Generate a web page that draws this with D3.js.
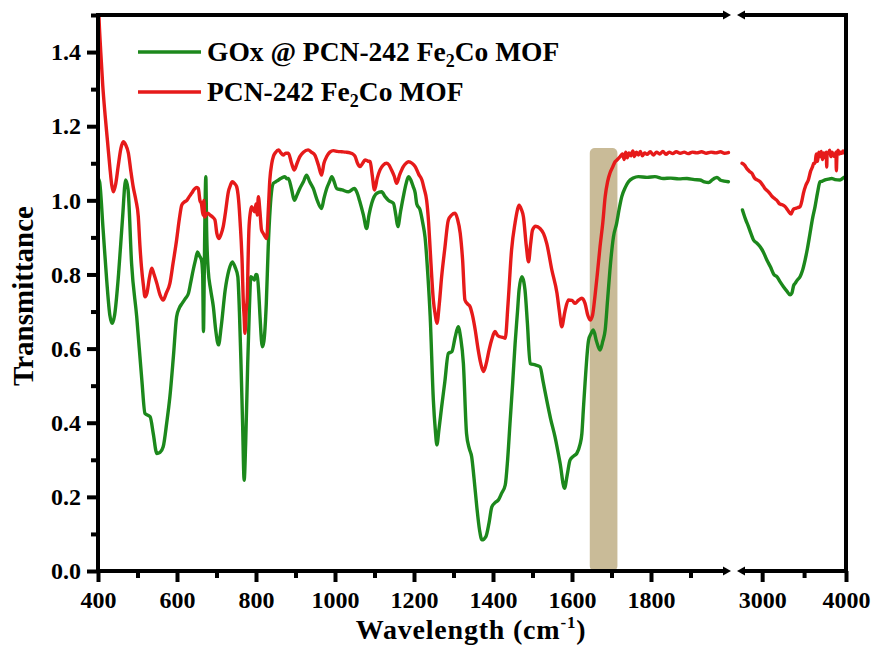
<!DOCTYPE html>
<html>
<head>
<meta charset="utf-8">
<script src="https://cdn.jsdelivr.net/npm/d3@7/dist/d3.min.js"></script>
<style>
  html, body { margin: 0; padding: 0; background: #fff; }
  svg { display: block; }
  text { font-family: "Liberation Serif", "Times New Roman", serif; font-weight: bold; fill: #000; }
</style>
</head>
<body>
<div id="chart"></div>
<script>
// FTIR spectra on a broken wavenumber axis: [400, 2000] and [2700, 4000] cm^-1
const lowDomain = [400, 2000];
const highDomain = [2700, 4000];
const yDomain = [0, 1.5];

const lowMajorTicks = [400, 600, 800, 1000, 1200, 1400, 1600, 1800];
const lowMinorTicks = [500, 700, 900, 1100, 1300, 1500, 1700, 1900];
const highMajorTicks = [3000, 4000];
const highMinorTicks = [3500];
const yMajorTicks = [0, 0.2, 0.4, 0.6, 0.8, 1.0, 1.2, 1.4];
const yMinorTicks = [0.1, 0.3, 0.5, 0.7, 0.9, 1.1, 1.3, 1.5];

const seriesNames = ["GOx @ PCN-242 Fe|2|Co MOF", "PCN-242 Fe|2|Co MOF"];
const seriesColors = ["#1c881c", "#e61a1a"];

// highlighted band (cm^-1) and its top (transmittance)
const bandRange = [1645, 1715];
const bandTop = 1.141;

// GOx @ PCN-242 Fe2Co MOF, low wavenumber part [wavenumber, transmittance]
const goxLow = [[400,1.06],[404,1.05],[413,0.92],[422,0.785],[430,0.69],[436,0.668],[442,0.69],[452,0.80],[462,0.95],[470,1.055],[476,1.03],[485,0.83],[498,0.686],[511,0.515],[519,0.425],[532,0.416],[540,0.37],[549,0.317],[557,0.32],[565,0.335],[574,0.40],[582,0.47],[591,0.58],[599,0.686],[606,0.71],[613,0.722],[621,0.735],[629,0.749],[635,0.78],[641,0.812],[647,0.84],[652,0.861],[657,0.85],[662,0.839],[665,0.80],[667,0.646],[669,0.80],[671,0.98],[673,1.064],[675,0.92],[679,0.812],[685,0.76],[692,0.713],[698,0.65],[705,0.61],[712,0.66],[722,0.758],[731,0.81],[740,0.834],[747,0.82],[754,0.794],[758,0.70],[762,0.56],[766,0.40],[770,0.245],[774,0.35],[779,0.56],[783,0.70],[787,0.794],[792,0.79],[796,0.785],[800,0.80],[803,0.799],[807,0.75],[810,0.69],[816,0.605],[820,0.62],[826,0.72],[831,0.875],[836,0.98],[844,1.046],[850,1.05],[857,1.055],[865,1.06],[873,1.064],[878,1.058],[882,1.059],[890,1.03],[897,1.0],[904,1.015],[911,1.032],[920,1.05],[928,1.068],[936,1.05],[945,1.032],[955,1.0],[966,0.978],[972,1.005],[979,1.032],[986,1.05],[992,1.064],[998,1.05],[1004,1.032],[1018,1.028],[1034,1.023],[1049,1.032],[1056,1.02],[1063,0.996],[1072,0.96],[1080,0.924],[1086,0.96],[1093,0.992],[1106,1.019],[1118,1.023],[1127,1.01],[1135,1.0],[1148,0.992],[1154,0.96],[1159,0.929],[1166,0.97],[1173,1.01],[1180,1.045],[1186,1.064],[1192,1.055],[1198,1.037],[1203,1.02],[1207,0.99],[1215,0.975],[1222,0.94],[1228,0.90],[1235,0.80],[1241,0.686],[1249,0.461],[1254,0.38],[1258,0.34],[1263,0.38],[1270,0.443],[1278,0.51],[1287,0.587],[1296,0.592],[1304,0.63],[1312,0.659],[1318,0.63],[1325,0.56],[1333,0.371],[1340,0.33],[1346,0.308],[1352,0.25],[1359,0.173],[1366,0.11],[1372,0.084],[1382,0.093],[1390,0.13],[1397,0.173],[1406,0.185],[1414,0.192],[1422,0.21],[1431,0.232],[1437,0.30],[1443,0.398],[1450,0.51],[1456,0.614],[1462,0.70],[1466,0.758],[1473,0.794],[1478,0.78],[1481,0.758],[1487,0.67],[1494,0.56],[1507,0.556],[1519,0.551],[1527,0.51],[1536,0.461],[1546,0.41],[1557,0.362],[1570,0.29],[1581,0.223],[1588,0.26],[1595,0.299],[1604,0.31],[1612,0.317],[1620,0.34],[1625,0.371],[1629,0.44],[1633,0.506],[1642,0.623],[1648,0.64],[1654,0.65],[1662,0.62],[1671,0.596],[1678,0.62],[1684,0.65],[1690,0.73],[1696,0.812],[1705,0.902],[1713,0.938],[1720,0.98],[1726,1.01],[1735,1.035],[1743,1.05],[1755,1.06],[1768,1.064],[1790,1.062],[1810,1.064],[1831,1.059],[1850,1.06],[1870,1.058],[1891,1.059],[1910,1.056],[1924,1.055],[1935,1.05],[1946,1.048],[1955,1.055],[1962,1.06],[1967,1.062],[1975,1.055],[1985,1.052],[1996,1.05]];

// PCN-242 Fe2Co MOF, low wavenumber part
const mofLow = [[400,1.56],[403,1.48],[407,1.40],[412,1.31],[418,1.23],[424,1.16],[430,1.09],[435,1.04],[439,1.023],[445,1.045],[451,1.091],[458,1.14],[464,1.158],[470,1.15],[477,1.127],[483,1.08],[489,1.037],[496,1.0],[502,0.956],[506,0.88],[510,0.821],[515,0.77],[519,0.74],[524,0.75],[530,0.79],[536,0.817],[542,0.80],[549,0.776],[557,0.745],[565,0.731],[573,0.75],[582,0.776],[590,0.83],[599,0.893],[606,0.95],[612,0.987],[618,0.995],[625,1.0],[631,1.01],[637,1.019],[644,1.03],[650,1.035],[654,1.032],[658,1.0],[662,0.99],[666,0.96],[668,1.0],[670,0.955],[673,0.96],[678,0.965],[684,0.96],[690,0.955],[696,0.947],[701,0.91],[706,0.897],[712,0.91],[717,0.929],[723,0.97],[730,1.023],[735,1.04],[740,1.05],[746,1.045],[751,1.037],[756,1.0],[760,0.938],[765,0.83],[768,0.72],[770,0.686],[772,0.641],[775,0.70],[778,0.74],[780,0.84],[782,0.92],[786,0.97],[789,0.983],[793,0.975],[797,0.969],[800,0.99],[803,0.96],[806,1.01],[810,0.97],[814,0.92],[819,0.91],[823,0.902],[827,0.897],[831,0.97],[835,1.055],[840,1.10],[844,1.118],[850,1.13],[857,1.136],[863,1.128],[869,1.122],[875,1.127],[882,1.127],[890,1.10],[897,1.082],[904,1.10],[911,1.118],[920,1.13],[932,1.136],[940,1.13],[949,1.122],[958,1.095],[966,1.068],[972,1.10],[979,1.118],[987,1.13],[996,1.134],[1006,1.132],[1017,1.131],[1028,1.13],[1038,1.128],[1045,1.125],[1051,1.118],[1057,1.10],[1063,1.091],[1070,1.10],[1076,1.109],[1083,1.106],[1089,1.104],[1094,1.07],[1100,1.028],[1107,1.06],[1114,1.082],[1122,1.095],[1131,1.1],[1137,1.095],[1143,1.082],[1150,1.065],[1156,1.046],[1164,1.07],[1173,1.091],[1180,1.1],[1186,1.104],[1195,1.10],[1203,1.091],[1212,1.07],[1220,1.055],[1226,1.03],[1232,1.0],[1237,0.94],[1241,0.866],[1249,0.731],[1254,0.69],[1258,0.668],[1264,0.72],[1270,0.794],[1278,0.87],[1287,0.947],[1295,0.96],[1304,0.965],[1310,0.95],[1317,0.911],[1323,0.84],[1329,0.731],[1336,0.72],[1342,0.713],[1348,0.69],[1355,0.65],[1362,0.60],[1369,0.56],[1376,0.538],[1383,0.56],[1390,0.596],[1397,0.625],[1405,0.646],[1412,0.635],[1418,0.632],[1425,0.63],[1431,0.628],[1438,0.72],[1447,0.866],[1456,0.94],[1462,0.975],[1466,0.987],[1472,0.975],[1477,0.956],[1484,0.88],[1490,0.834],[1495,0.88],[1500,0.92],[1508,0.93],[1519,0.924],[1528,0.91],[1536,0.884],[1549,0.812],[1562,0.749],[1568,0.70],[1574,0.659],[1582,0.70],[1591,0.731],[1600,0.73],[1608,0.722],[1616,0.73],[1625,0.736],[1633,0.722],[1640,0.69],[1646,0.677],[1652,0.69],[1658,0.74],[1664,0.80],[1671,0.875],[1678,0.94],[1684,1.01],[1690,1.05],[1696,1.073],[1703,1.09],[1709,1.104],[1715,1.11],[1722,1.118],[1728,1.125],[1732,1.11],[1736,1.13],[1740,1.115],[1744,1.128],[1749,1.12],[1754,1.133],[1758,1.118],[1763,1.13],[1768,1.122],[1773,1.132],[1778,1.12],[1784,1.128],[1790,1.124],[1798,1.131],[1806,1.122],[1814,1.13],[1822,1.125],[1830,1.132],[1838,1.124],[1846,1.13],[1855,1.126],[1864,1.131],[1874,1.127],[1884,1.13],[1894,1.126],[1905,1.13],[1916,1.128],[1928,1.131],[1940,1.127],[1952,1.13],[1964,1.128],[1976,1.131],[1986,1.127],[1996,1.129]];

// high wavenumber part
const goxHigh = [[2765,0.974],[2800,0.95],[2837,0.929],[2867,0.91],[2897,0.893],[2935,0.885],[2976,0.875],[3015,0.86],[3056,0.839],[3100,0.82],[3140,0.80],[3175,0.794],[3215,0.78],[3254,0.767],[3295,0.755],[3333,0.745],[3355,0.75],[3375,0.77],[3393,0.776],[3420,0.785],[3452,0.794],[3480,0.81],[3512,0.839],[3540,0.87],[3571,0.911],[3600,0.95],[3631,0.983],[3660,1.02],[3690,1.05],[3720,1.052],[3750,1.055],[3790,1.057],[3829,1.059],[3870,1.056],[3929,1.055],[3965,1.06],[4000,1.064]];
const mofHigh = [[2760,1.10],[2790,1.095],[2820,1.085],[2850,1.078],[2878,1.073],[2910,1.06],[2940,1.055],[2976,1.05],[3010,1.04],[3040,1.03],[3075,1.023],[3110,1.013],[3140,1.006],[3175,1.0],[3210,0.99],[3240,0.988],[3274,0.983],[3310,0.972],[3345,0.963],[3370,0.975],[3393,0.978],[3420,0.98],[3452,0.983],[3475,1.0],[3492,1.019],[3520,1.04],[3551,1.055],[3580,1.08],[3600,1.09],[3615,1.10],[3631,1.10],[3645,1.125],[3660,1.105],[3675,1.13],[3690,1.118],[3705,1.132],[3720,1.11],[3735,1.128],[3750,1.115],[3765,1.13],[3770,1.09],[3775,1.127],[3790,1.127],[3805,1.135],[3820,1.118],[3835,1.13],[3850,1.12],[3869,1.118],[3880,1.13],[3885,1.08],[3892,1.12],[3905,1.135],[3920,1.125],[3935,1.13],[3950,1.127],[3965,1.133],[3980,1.128],[4000,1.133]];

const W = 876, H = 646;
const plot = { left: 98, right: 846, top: 15, bottom: 571, breakL: 731, breakR: 737 };
const AXW = 4; // axis stroke width

const svg = d3.select("#chart").append("svg")
  .attr("xmlns", "http://www.w3.org/2000/svg")
  .attr("width", W).attr("height", H).attr("viewBox", `0 0 ${W} ${H}`);

const xLow = d3.scaleLinear().domain(lowDomain).range([plot.left, plot.breakL - 1]);
const xHigh = d3.scaleLinear().domain(highDomain).range([plot.breakR, plot.right]);
const y = d3.scaleLinear().domain(yDomain).range([plot.bottom, plot.top]);

const defs = svg.append("defs");
defs.append("clipPath").attr("id", "clipLow").append("rect")
  .attr("x", plot.left).attr("y", plot.top).attr("width", plot.breakL - plot.left).attr("height", plot.bottom - plot.top);
defs.append("clipPath").attr("id", "clipHigh").append("rect")
  .attr("x", plot.breakR).attr("y", plot.top).attr("width", plot.right - plot.breakR).attr("height", plot.bottom - plot.top);

// highlighted band
svg.append("rect")
  .attr("x", xLow(bandRange[0])).attr("width", xLow(bandRange[1]) - xLow(bandRange[0]))
  .attr("y", y(bandTop)).attr("height", y(0) - y(bandTop))
  .attr("rx", 5).attr("ry", 5)
  .attr("fill", "#c9bb98");

// spectra
const lineLow = d3.line().x(d => xLow(d[0])).y(d => y(d[1])).curve(d3.curveMonotoneX);
const lineHigh = d3.line().x(d => xHigh(d[0])).y(d => y(d[1])).curve(d3.curveMonotoneX);

const gLow = svg.append("g").attr("clip-path", "url(#clipLow)");
const gHigh = svg.append("g").attr("clip-path", "url(#clipHigh)");
[[goxLow, goxHigh, seriesColors[0]], [mofLow, mofHigh, seriesColors[1]]].forEach(([lo, hi, c]) => {
  gLow.append("path").datum(lo).attr("d", lineLow)
    .attr("fill", "none").attr("stroke", c).attr("stroke-width", 3.4).attr("stroke-linejoin", "round").attr("stroke-linecap", "round");
  gHigh.append("path").datum(hi).attr("d", lineHigh)
    .attr("fill", "none").attr("stroke", c).attr("stroke-width", 3.4).attr("stroke-linejoin", "round").attr("stroke-linecap", "round");
});

// frame: one stroked box, opened at the axis break
svg.append("rect")
  .attr("x", plot.left).attr("y", plot.top)
  .attr("width", plot.right - plot.left).attr("height", plot.bottom - plot.top)
  .style("fill", "none").style("stroke", "#000").style("stroke-width", AXW + "px");
[plot.top, plot.bottom].forEach(yy => {
  svg.append("rect")
    .attr("x", plot.breakL - 5).attr("y", yy - 4).attr("width", plot.breakR - plot.breakL + 10).attr("height", 8)
    .style("fill", "#fff");
  // break arrowheads
  svg.append("path").style("fill", "#000")
    .attr("d", `M${plot.breakL - 8},${yy - 4.5} L${plot.breakL},${yy} L${plot.breakL - 8},${yy + 4.5} Z`);
  svg.append("path").style("fill", "#000")
    .attr("d", `M${plot.breakR + 8},${yy - 4.5} L${plot.breakR},${yy} L${plot.breakR + 8},${yy + 4.5} Z`);
});

// axes: d3 axes for ticks and labels
const tickFont = 24;
const fontFamily = '"Liberation Serif", "Times New Roman", serif';
function styleAxis(g) {
  g.select(".domain").remove();
  g.selectAll(".tick line").style("stroke", "#000").style("stroke-width", AXW + "px");
  g.selectAll(".tick text").style("font-size", tickFont + "px").style("font-weight", "bold")
    .style("font-family", fontFamily).style("fill", "#000");
}
function bottomAxis(scale, major, minor) {
  svg.append("g").attr("transform", `translate(0,${plot.bottom})`)
    .call(d3.axisBottom(scale).tickValues(minor).tickSizeInner(7).tickSizeOuter(0).tickFormat(() => ""))
    .call(styleAxis);
  svg.append("g").attr("transform", `translate(0,${plot.bottom})`)
    .call(d3.axisBottom(scale).tickValues(major).tickSizeInner(11).tickSizeOuter(0).tickPadding(9).tickFormat(d3.format("d")))
    .call(styleAxis);
}
bottomAxis(xLow, lowMajorTicks, lowMinorTicks);
bottomAxis(xHigh, highMajorTicks, highMinorTicks);
svg.append("g").attr("transform", `translate(${plot.left},0)`)
  .call(d3.axisLeft(y).tickValues(yMinorTicks).tickSizeInner(7).tickSizeOuter(0).tickFormat(() => ""))
  .call(styleAxis);
svg.append("g").attr("transform", `translate(${plot.left},0)`)
  .call(d3.axisLeft(y).tickValues(yMajorTicks).tickSizeInner(11).tickSizeOuter(0).tickPadding(6).tickFormat(d3.format(".1f")))
  .call(styleAxis);

// axis titles
svg.append("text")
  .attr("transform", `translate(33,${(plot.top + plot.bottom) / 2 + 3}) rotate(-90)`)
  .attr("text-anchor", "middle").style("font-size", "29px")
  .text("Transmittance");

const xt = svg.append("text")
  .attr("x", 471).attr("y", 639).attr("text-anchor", "middle")
  .style("font-size", "28px").style("letter-spacing", "0.8px");
xt.append("tspan").text("Wavelength (cm");
xt.append("tspan").attr("dy", -11).style("font-size", "17px").text("-1");
xt.append("tspan").attr("dy", 11).text(")");

// legend
const legend = svg.append("g");
seriesNames.forEach((name, i) => {
  const ly = 52 + i * 40;
  legend.append("line").attr("x1", 138).attr("x2", 201).attr("y1", ly).attr("y2", ly)
    .style("stroke", seriesColors[i]).style("stroke-width", "3.5px");
  const t = legend.append("text").attr("x", 207).attr("y", ly + 9).style("font-size", "27.5px");
  const parts = name.split("|");
  t.append("tspan").text(parts[0]);
  t.append("tspan").attr("dy", 6).style("font-size", "18px").text(parts[1]);
  t.append("tspan").attr("dy", -6).text(parts[2]);
});
</script>
</body>
</html>
